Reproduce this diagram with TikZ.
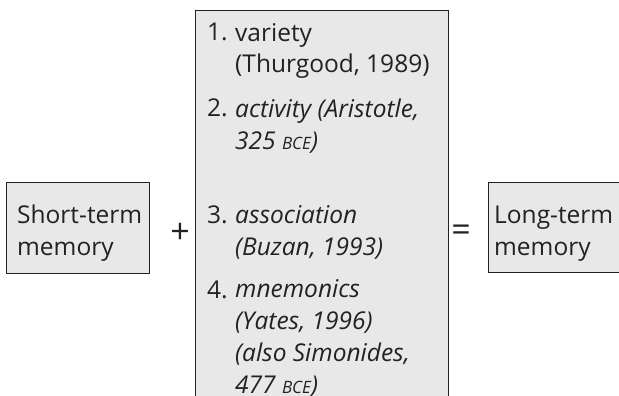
\documentclass[tikz,border=0pt]{standalone}
\usepackage{fontspec}
\setmainfont{Open Sans}
\definecolor{boxfill}{HTML}{E8E8E8}
\definecolor{ink}{HTML}{222222}
\newcommand\bcetxt{{\fontsize{17}{17}\selectfont BCE}}
\tikzset{
  box/.style={draw=ink, fill=boxfill, line width=1.3pt, rectangle, inner sep=0pt},
  txt/.style={text=ink, font=\fontsize{24.5}{32}\selectfont, inner sep=0pt, anchor=base west, align=left},
  sym/.style={text=ink, font=\fontsize{34}{34}\selectfont, inner sep=0pt}
}
\begin{document}
\begin{tikzpicture}[x=1pt,y=-1pt]
\useasboundingbox (0,0) rectangle (619,396);
\clip (0,0) rectangle (619,396);
% boxes
\node[box, minimum width=143pt, minimum height=91pt, anchor=north west] (stm) at (6,182) {};
\node[box, minimum width=253pt, minimum height=420pt, anchor=north west] (mid) at (195,10) {};
\node[box, minimum width=160pt, minimum height=90pt, anchor=north west] (ltm) at (488,182) {};
% box texts (anchor base = baseline of last line)
\node[txt] (stmt) at (17,255) {Short-term\\memory};
\node[txt] (ltmt) at (494,255) {Long-term\\memory};
% operators
\node[sym] (plus) at (180,233) {+};
\node[sym] (eq) at (461,233) {=};
% list
\node[txt] (n1) at (207,41) {1.};
\node[txt] (t1) at (235,73) {variety\\(Thurgood, 1989)};
\node[txt] (n2) at (207,117) {2.};
\node[txt] (t2) at (235,149) {\itshape activity (Aristotle,\\\itshape 325 \bcetxt)};
\node[txt] (n3) at (207,223) {3.};
\node[txt] (t3) at (235,255) {\itshape association\\\itshape (Buzan, 1993)};
\node[txt] (n4) at (207,298) {4.};
\node[txt] (t4) at (235,393) {\itshape mnemonics\\\itshape (Yates, 1996)\\\itshape (also Simonides,\\\itshape 477 \bcetxt)};
\end{tikzpicture}
\end{document}
